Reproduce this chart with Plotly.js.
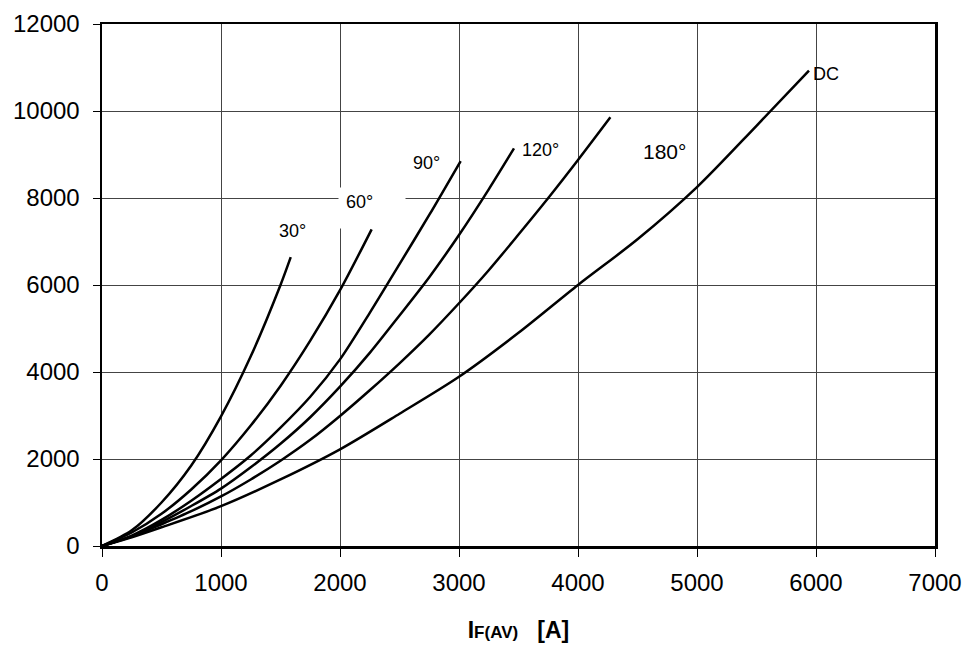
<!DOCTYPE html>
<html>
<head>
<meta charset="utf-8">
<script src="https://cdn.plot.ly/plotly-3.0.1.min.js"></script>
<style>html,body{margin:0;padding:0;background:#fff;}#chart{width:967px;height:646px;}</style>
</head>
<body>
<div id="chart"></div>
<script>
// Curves: forward power loss vs average forward current, by conduction angle
const x30  = [0, 250, 500, 750, 1000, 1250, 1500, 1586];
const y30  = [0, 360, 1000, 1850, 2980, 4360, 6000, 6640];

const x60  = [0, 250, 500, 750, 1000, 1250, 1500, 1750, 2000, 2266];
const y60  = [0, 310, 740, 1300, 1970, 2770, 3680, 4720, 5880, 7280];

const x90  = [0, 250, 500, 750, 1000, 1250, 1500, 1750, 2000, 2250, 2500, 2750, 3014];
const y90  = [0, 240, 600, 1040, 1540, 2080, 2720, 3430, 4290, 5360, 6480, 7610, 8850];

const x120 = [0, 250, 500, 750, 1000, 1250, 1500, 1750, 2000, 2250, 2500, 2750, 3000, 3250, 3462];
const y120 = [0, 225, 550, 920, 1320, 1810, 2350, 2960, 3662, 4440, 5300, 6180, 7150, 8200, 9140];

const x180 = [0, 250, 500, 750, 1000, 1250, 1500, 1750, 2000, 2250, 2500, 2750, 3000, 3250, 3500, 3750, 4000, 4272];
const y180 = [0, 215, 500, 800, 1140, 1530, 1960, 2440, 2989, 3580, 4200, 4860, 5580, 6340, 7160, 8000, 8874, 9855];

const xDC  = [0, 250, 500, 1000, 1500, 2000, 2500, 3000, 3500, 4000, 4500, 5000, 5500, 5941];
const yDC  = [0, 200, 430, 915, 1530, 2222, 3040, 3890, 4900, 6000, 7050, 8250, 9660, 10926];

const curveLabels = ['30°', '60°', '90°', '120°', '180°', 'DC'];
const labelX = [1602, 2160, 2723, 3689, 4723, 5960];
const labelY = [7248, 7908, 8811, 9103, 9080, 10844];

const xTicks = [0, 1000, 2000, 3000, 4000, 5000, 6000, 7000];
const yTicks = [0, 2000, 4000, 6000, 8000, 10000, 12000];

const FONT = 'Arial, "Liberation Sans", sans-serif';
const series = [[x30,y30],[x60,y60],[x90,y90],[x120,y120],[x180,y180],[xDC,yDC]];
const traces = series.map((s, i) => ({
  x: s[0], y: s[1], type: 'scatter', mode: 'lines', name: curveLabels[i],
  line: {color: '#000', width: 2.5, shape: 'spline', smoothing: 0.8},
  hoverinfo: 'skip'
}));

const labelSizes = [18, 18, 18, 18, 21, 18];
const annotations = [
  // white box behind the 60° label
  {x: 2273, y: 7770, xref: 'x', yref: 'y', text: ' ', showarrow: false,
   bgcolor: '#fff', width: 66, height: 40, borderpad: 0}
].concat(curveLabels.map((t, i) => ({
  x: labelX[i], y: labelY[i], xref: 'x', yref: 'y', text: t, showarrow: false,
  xanchor: i === 5 ? 'left' : 'center', yanchor: 'middle',
  font: {family: FONT, size: labelSizes[i], color: '#000'}
})));

const layout = {
  width: 967, height: 646,
  margin: {l: 102, r: 32, t: 24, b: 100},
  paper_bgcolor: '#fff', plot_bgcolor: '#fff',
  showlegend: false,
  font: {family: FONT, color: '#000'},
  xaxis: {
    range: [0, 7000], tickvals: xTicks, ticktext: xTicks.map(String),
    showgrid: true, gridcolor: '#444', gridwidth: 1,
    showline: true, linecolor: '#000', linewidth: 2.5, mirror: true,
    ticks: 'outside', ticklen: 8, tickcolor: '#000', tickwidth: 1,
    ticklabelstandoff: 6,
    tickfont: {family: FONT, size: 24, color: '#000'},
    zeroline: false, fixedrange: true,
    title: {text: '<b>I<span style="font-size:17px">F(AV)</span>\u00a0\u00a0 [A]</b>',
            font: {family: FONT, size: 23, color: '#000'}, standoff: 27}
  },
  yaxis: {
    range: [0, 12000], tickvals: yTicks, ticktext: yTicks.map(String),
    showgrid: true, gridcolor: '#444', gridwidth: 1,
    showline: true, linecolor: '#000', linewidth: 2.5, mirror: true,
    ticks: 'outside', ticklen: 7, tickcolor: '#000', tickwidth: 1,
    ticklabelstandoff: 8,
    tickfont: {family: FONT, size: 24, color: '#000'},
    zeroline: false, fixedrange: true
  },
  annotations: annotations
};

Plotly.newPlot('chart', traces, layout, {displayModeBar: false, staticPlot: true});
</script>
</body>
</html>
